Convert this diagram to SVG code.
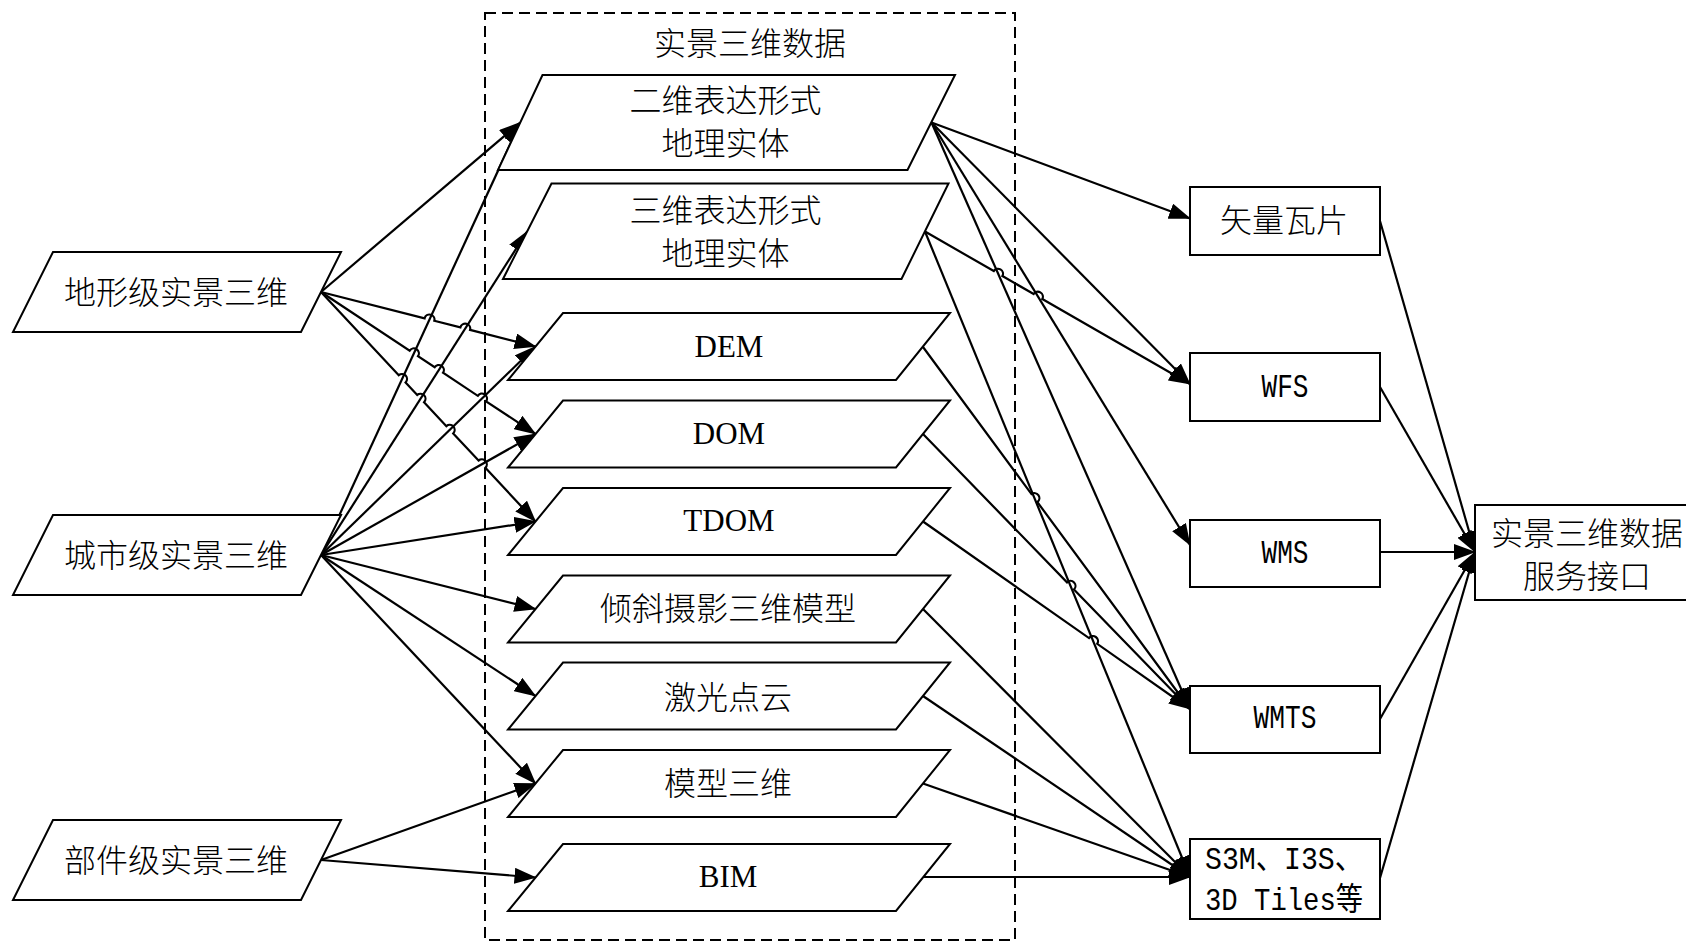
<svg xmlns="http://www.w3.org/2000/svg" width="1686" height="942" viewBox="0 0 1686 942">
<defs>
<style>
.nd{fill:#fff;stroke:#000;stroke-width:2}
.ln{fill:none;stroke:#000;stroke-width:2.2;marker-end:url(#ah)}
.cn{font-family:"Noto Sans CJK SC",sans-serif;font-size:32px;font-weight:300;text-anchor:middle;fill:#000}
.en{font-family:"Liberation Serif",serif;font-size:31px;text-anchor:middle;fill:#000}
.mo{font-family:"Liberation Mono","Noto Sans CJK SC",monospace;font-size:34px;fill:#000}
.m2{font-family:"Liberation Mono","Noto Sans CJK SC",monospace;font-size:32px;fill:#000}
</style>
<marker id="ah" markerWidth="22" markerHeight="16" refX="21" refY="8" orient="auto" markerUnits="userSpaceOnUse">
<path d="M0,0 L22,8 L0,16 z" fill="#000"/>
</marker>
</defs>
<rect width="1686" height="942" fill="#fff"/>

<g id="group-realscene-data">
<rect x="485" y="13" width="530" height="927" fill="none" stroke="#000" stroke-width="2" stroke-dasharray="11 6"/>
<text class="cn" x="750" y="55">实景三维数据</text>
</g>

<g id="connectors">
<path class="ln" d="M321,292 L520.25,122.5"/>
<path class="ln" d="M321,292 L424.62,318.33 A5,5 0 0 1 434.32,320.79 L460.36,327.41 A5,5 0 0 1 470.06,329.87 L535.5,346.5"/>
<path class="ln" d="M321,292 L409.67,350.70 A5,5 0 0 1 418.01,356.22 L434.68,367.25 A5,5 0 0 1 443.02,372.77 L477.79,395.80 A5,5 0 0 1 486.13,401.32 L535.5,434"/>
<path class="ln" d="M321,292 L398.76,375.19 A5,5 0 0 1 405.58,382.49 L417.23,394.95 A5,5 0 0 1 424.05,402.25 L446.40,426.16 A5,5 0 0 1 453.22,433.46 L478.55,460.57 A5,5 0 0 1 485.37,467.87 L535.5,521.5"/>
<path class="ln" d="M321,555 L520.25,122.5"/>
<path class="ln" d="M321,555 L527.25,231.25"/>
<path class="ln" d="M321,555 L535.5,346.5"/>
<path class="ln" d="M321,555 L535.5,434"/>
<path class="ln" d="M321,555 L535.5,521.5"/>
<path class="ln" d="M321,555 L535.5,609"/>
<path class="ln" d="M321,555 L535.5,696"/>
<path class="ln" d="M321,555 L535.5,783.5"/>
<path class="ln" d="M321,860 L535.5,783.5"/>
<path class="ln" d="M321,860 L535.5,877.5"/>

<path class="ln" d="M931.5,122.5 L1190,218.5"/>
<path class="ln" d="M931.5,122.5 L1190,384"/>
<path class="ln" d="M931.5,122.5 L1190,545"/>
<path class="ln" d="M931.5,122.5 L1190,709"/>
<path class="ln" d="M925,231.5 L993.75,271.06 A5,5 0 0 1 1002.41,276.04 L1033.64,294.02 A5,5 0 0 1 1042.30,299.00 L1190,384"/>
<path class="ln" d="M925,231.5 L1190,877"/>
<path class="ln" d="M923,347 L1031.48,494.09 A5,5 0 0 1 1037.42,502.13 L1190,709"/>
<path class="ln" d="M923,434 L1067.02,582.33 A5,5 0 0 1 1073.98,589.51 L1190,709"/>
<path class="ln" d="M923,521.5 L1089.00,638.07 A5,5 0 0 1 1097.18,643.81 L1190,709"/>
<path class="ln" d="M923,609 L1190,877"/>
<path class="ln" d="M923,696 L1190,877"/>
<path class="ln" d="M923,783.5 L1190,877"/>
<path class="ln" d="M923,877 L1190,877"/>

<path class="ln" d="M1380,221 L1475,552"/>
<path class="ln" d="M1380,387 L1475,552"/>
<path class="ln" d="M1380,552 L1475,552"/>
<path class="ln" d="M1380,719 L1475,552"/>
<path class="ln" d="M1380,878 L1475,552"/>
</g>

<g id="node-terrain">
<polygon class="nd" points="53,252 341,252 301,332 13,332"/>
<text class="cn" x="176" y="304">地形级实景三维</text>
</g>
<g id="node-city">
<polygon class="nd" points="53,515 341,515 301,595 13,595"/>
<text class="cn" x="176" y="567">城市级实景三维</text>
</g>
<g id="node-component">
<polygon class="nd" points="53,820 341,820 301,900 13,900"/>
<text class="cn" x="176" y="872">部件级实景三维</text>
</g>

<g id="node-2d-entity">
<polygon class="nd" points="542.5,75 955,75 907.5,170 498,170"/>
<text class="cn" x="725.5" y="112">二维表达形式</text>
<text class="cn" x="725.5" y="155">地理实体</text>
</g>
<g id="node-3d-entity">
<polygon class="nd" points="551.5,183.5 948.5,183.5 901.5,279 503,279"/>
<text class="cn" x="725.5" y="222">三维表达形式</text>
<text class="cn" x="725.5" y="265">地理实体</text>
</g>
<g id="node-dem">
<polygon class="nd" points="563,313 950,313 896,380 508,380"/>
<text class="en" x="729" y="357">DEM</text>
</g>
<g id="node-dom">
<polygon class="nd" points="563,400.5 950,400.5 896,467.5 508,467.5"/>
<text class="en" x="729" y="444">DOM</text>
</g>
<g id="node-tdom">
<polygon class="nd" points="563,488 950,488 896,555 508,555"/>
<text class="en" x="729" y="531">TDOM</text>
</g>
<g id="node-oblique">
<polygon class="nd" points="563,575.5 950,575.5 896,642.5 508,642.5"/>
<text class="cn" x="728" y="620">倾斜摄影三维模型</text>
</g>
<g id="node-lidar">
<polygon class="nd" points="563,662.5 950,662.5 896,729.5 508,729.5"/>
<text class="cn" x="728" y="708.5">激光点云</text>
</g>
<g id="node-model">
<polygon class="nd" points="563,750 950,750 896,817 508,817"/>
<text class="cn" x="728" y="795">模型三维</text>
</g>
<g id="node-bim">
<polygon class="nd" points="563,844 950,844 896,911 508,911"/>
<text class="en" x="728" y="887">BIM</text>
</g>

<g id="node-vector-tile">
<rect class="nd" x="1190" y="187" width="190" height="68"/>
<text class="cn" x="1284" y="232">矢量瓦片</text>
</g>
<g id="node-wfs">
<rect class="nd" x="1190" y="353" width="190" height="68"/>
<text class="mo" x="1285" y="397" text-anchor="middle" textLength="47" lengthAdjust="spacingAndGlyphs">WFS</text>
</g>
<g id="node-wms">
<rect class="nd" x="1190" y="520" width="190" height="67"/>
<text class="mo" x="1285" y="563" text-anchor="middle" textLength="47" lengthAdjust="spacingAndGlyphs">WMS</text>
</g>
<g id="node-wmts">
<rect class="nd" x="1190" y="686" width="190" height="67"/>
<text class="mo" x="1285" y="728" text-anchor="middle" textLength="63" lengthAdjust="spacingAndGlyphs">WMTS</text>
</g>
<g id="node-s3m">
<rect class="nd" x="1190" y="839" width="190" height="80"/>
<text class="m2" x="1205" y="869" textLength="158" lengthAdjust="spacingAndGlyphs">S3M、I3S、</text>
<text class="m2" x="1205" y="910" textLength="158" lengthAdjust="spacingAndGlyphs">3D Tiles等</text>
</g>

<g id="node-service-interface">
<rect class="nd" x="1475" y="505" width="240" height="95"/>
<text class="cn" x="1587" y="545">实景三维数据</text>
<text class="cn" x="1587" y="588">服务接口</text>
</g>
</svg>
